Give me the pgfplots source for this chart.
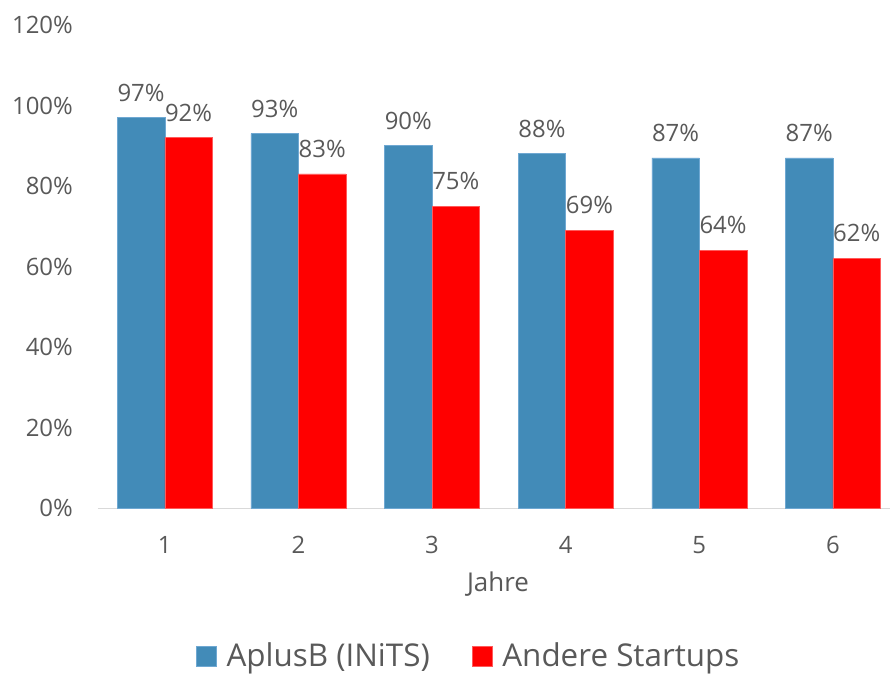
\documentclass[border=0pt]{standalone}
\usepackage{fontspec}
\setmainfont{Open Sans}
\usepackage{pgfplots}
\pgfplotsset{compat=1.18}
\definecolor{barblue}{HTML}{428BB8}
\definecolor{barblueedge}{HTML}{6FA8D2}
\definecolor{barred}{HTML}{FF0000}
\definecolor{barrededge}{HTML}{FF5A5A}
\definecolor{txt}{HTML}{595959}
\definecolor{baseline}{HTML}{D9D9D9}

\begin{document}
\begin{tikzpicture}
\begin{axis}[
  scale only axis,
  width=792bp, height=483bp,
  xmin=0.5, xmax=6.427,
  ymin=0, ymax=120,
  ybar=0pt, bar width=47.5bp,
  xtick={1,2,3,4,5,6},
  ytick={0,20,40,60,80,100,120},
  /pgf/number format/assume math mode=true,
  yticklabel={\pgfmathprintnumber{\tick}\%},
  axis lines*=left,
  x axis line style={draw=baseline, line width=1bp},
  y axis line style={draw=none},
  major tick length=0pt,
  tick style={draw=none},
  tick label style={font=\fontsize{24}{28}\selectfont, text=txt, inner sep=0pt},
  yticklabel style={anchor=east, xshift=-25bp},
  xticklabel style={anchor=north, yshift=-28bp},
  xlabel={Jahre},
  xlabel style={at={(axis description cs:0.505,0)}, anchor=north, yshift=-64bp,
    inner sep=0pt, font=\fontsize{26}{30}\selectfont, text=txt},
  nodes near coords={\pgfmathprintnumber{\pgfplotspointmeta}\%},
  every node near coord/.append style={font=\fontsize{24}{28}\selectfont,
    text=txt, inner sep=0pt, anchor=south, yshift=16bp},
  legend columns=2,
  legend style={at={(rel axis cs:0.468,-0.306)}, anchor=center, draw=none,
    fill=none, font=\fontsize{31.5}{36}\selectfont, text=txt,
    /tikz/every odd column/.append style={column sep=8bp},
    /tikz/every even column/.append style={column sep=40bp}},
  legend image code/.code={\fill[#1] (0bp,-10bp) rectangle (20bp,10bp);},
]
% AplusB (INiTS)
\addplot[fill=barblue, draw=barblueedge, line width=0.6bp] coordinates {
  (1,97) (2,93) (3,90) (4,88) (5,87) (6,87)
};
\addlegendentry{AplusB (INiTS)}
% Andere Startups
\addplot[fill=barred, draw=barrededge, line width=0.6bp] coordinates {
  (1,92) (2,83) (3,75) (4,69) (5,64) (6,62)
};
\addlegendentry{Andere Startups}
\end{axis}
\pgfresetboundingbox
\path[use as bounding box] (-98bp,-169bp) rectangle (792bp,508bp);
\end{tikzpicture}
\end{document}
